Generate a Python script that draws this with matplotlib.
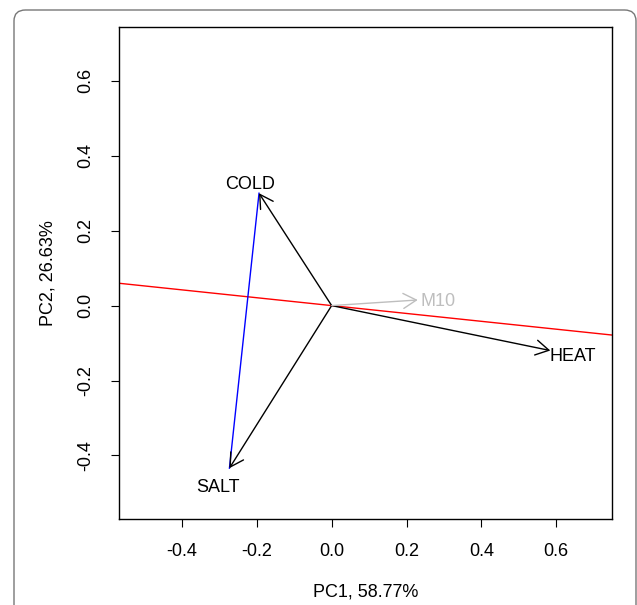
import matplotlib.pyplot as plt
from matplotlib.patches import FancyBboxPatch

# loadings (arrow tips)
names = ['COLD', 'SALT', 'HEAT', 'M10']
pc1 = [-0.194, -0.273, 0.584, 0.230]
pc2 = [0.300, -0.434, -0.120, 0.015]
colors = ['black', 'black', 'black', '#bebebe']
# label positions
lab_x = [-0.218, -0.303, 0.643, 0.284]
lab_y = [0.324, -0.485, -0.135, 0.012]

red_slope = -0.105
xticks = [-0.4, -0.2, 0.0, 0.2, 0.4, 0.6]
yticks = [-0.4, -0.2, 0.0, 0.2, 0.4, 0.6]

plt.rcParams['font.family'] = ['Liberation Sans', 'DejaVu Sans']
fs = 13

fig = plt.figure(figsize=(6.37, 6.05), dpi=100)
ax = fig.add_axes([0.1868, 0.1426, 0.7735, 0.8123])

# journal-style rounded frame around the figure
frame = FancyBboxPatch((14 / 637, -0.1), (636 - 14) / 637, (595 / 605) + 0.1,
                       boxstyle='round,pad=0,rounding_size=0.018',
                       transform=fig.transFigure, fill=False,
                       edgecolor='#777777', linewidth=1.0, clip_on=False)
fig.patches.append(frame)

ax.set_xlim(-0.568, 0.748)
ax.set_ylim(-0.569, 0.743)

ax.axline((0, 0), slope=red_slope, color='red', lw=1)
ax.plot([pc1[0], pc1[1]], [pc2[0], pc2[1]], color='blue', lw=1)

for i in range(len(names)):
    ax.annotate('', xy=(pc1[i], pc2[i]), xytext=(0, 0),
                arrowprops=dict(arrowstyle='->,head_length=0.94,head_width=0.54',
                                mutation_scale=10, color=colors[i], lw=1,
                                shrinkA=0, shrinkB=0))
    ax.text(lab_x[i], lab_y[i], names[i], color=colors[i], fontsize=fs,
            ha='center', va='center')

ax.set_xticks(xticks)
ax.set_yticks(yticks)
ax.set_xticklabels(['%.1f' % v for v in xticks])
ax.set_yticklabels(['%.1f' % v for v in yticks], rotation=90, va='center')
ax.tick_params(direction='out', length=5.5, width=0.8, labelsize=fs, pad=12)
for s in ax.spines.values():
    s.set_linewidth(1)
ax.set_xlabel('PC1, 58.77%', fontsize=fs, labelpad=17)
ax.set_ylabel('PC2, 26.63%', fontsize=fs, labelpad=15)

fig.savefig('out.png', dpi=100)
